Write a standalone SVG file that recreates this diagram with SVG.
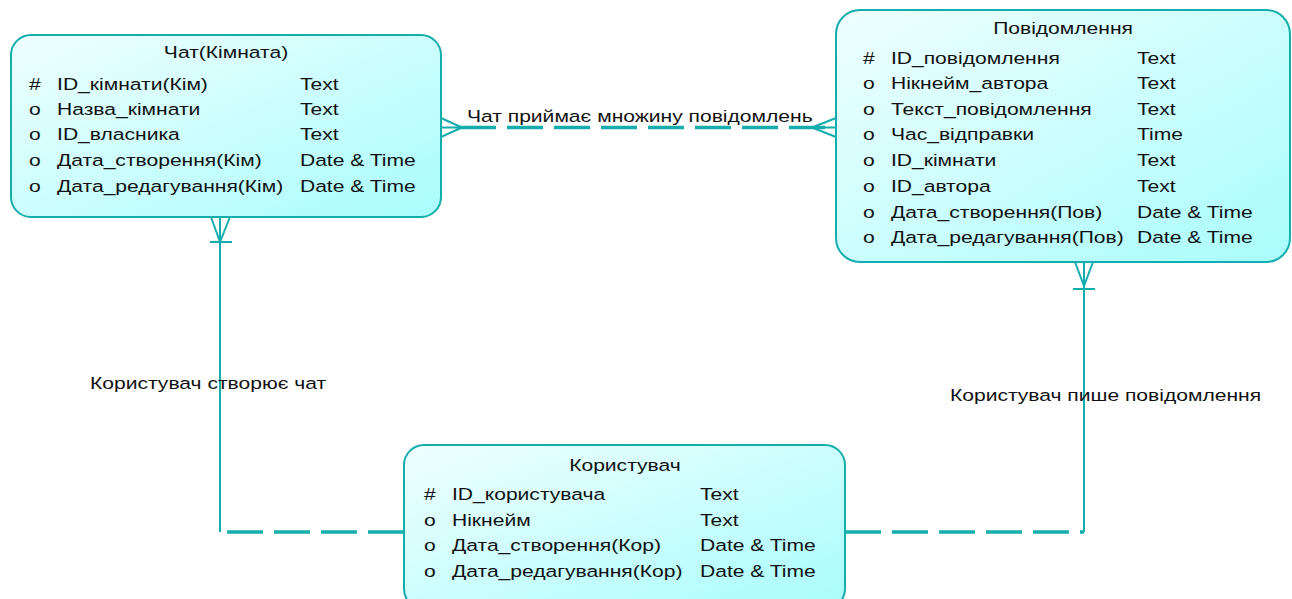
<svg xmlns="http://www.w3.org/2000/svg" width="1292" height="599" viewBox="0 0 1292 599">
  <defs>
    <linearGradient id="entityFill" x1="0" y1="0" x2="1" y2="1">
      <stop offset="0" stop-color="#effffe"/>
      <stop offset="1" stop-color="#a9fdfd"/>
    </linearGradient>
  </defs>
  <style>
    .box { fill: url(#entityFill); stroke: #14adad; stroke-width: 2; }
    text { font-family: "Liberation Sans", Arial, sans-serif; font-size: 17px; fill: #111; }
    .title { text-anchor: middle; }
    .rel { fill: none; stroke: #14adad; stroke-width: 2; }
    .dash { fill: none; stroke: #14adad; stroke-width: 3.5; stroke-dasharray: 36 11; }
  </style>
  <rect width="1292" height="599" fill="#ffffff"/>

  <!-- relationship lines; text layers are widened by 1.24 horizontally, so x values are divided by it -->
  <g id="connectors">
    <!-- chat to message: many to many -->
    <path class="rel" d="M441 118 L462 127.5 L441 137 M441 127.5 L462 127.5"/>
    <path class="rel" d="M836 118 L812 127.5 L836 137 M836 127.5 L812 127.5"/>
    <path class="dash" d="M460 127.5 L836 127.5"/>
    <!-- user creates chat -->
    <path class="rel" d="M211 217 L220 242 L230 217 M210 242 L232 242 M220 217 L220 532"/>
    <path class="dash" d="M404 532 L220 532"/>
    <!-- user writes message -->
    <path class="rel" d="M1075 262 L1084 286 L1093 262 M1073 289 L1095 289 M1084 262 L1084 532"/>
    <path class="dash" d="M845 532 L1084 532"/>
    <g transform="scale(1.24 1)">
      <text x="376.6" y="122">Чат приймає множину повідомлень</text>
      <text x="72.6" y="389">Користувач створює чат</text>
      <text x="766.1" y="401">Користувач пише повідомлення</text>
    </g>
  </g>

  <g id="chat">
    <rect class="box" x="11" y="35" width="430" height="182" rx="20" ry="20"/>
    <g transform="scale(1.24 1)">
      <text class="title" x="182.3" y="58">Чат(Кімната)</text>
      <text x="23.4" y="90">#</text><text x="46" y="90">ID_кімнати(Кім)</text><text x="241.9" y="90">Text</text>
      <text x="23.4" y="115">o</text><text x="46" y="115">Назва_кімнати</text><text x="241.9" y="115">Text</text>
      <text x="23.4" y="140">o</text><text x="46" y="140">ID_власника</text><text x="241.9" y="140">Text</text>
      <text x="23.4" y="166">o</text><text x="46" y="166">Дата_створення(Кім)</text><text x="241.9" y="166">Date &amp; Time</text>
      <text x="23.4" y="192">o</text><text x="46" y="192">Дата_редагування(Кім)</text><text x="241.9" y="192">Date &amp; Time</text>
    </g>
  </g>

  <g id="message">
    <rect class="box" x="836" y="10" width="454" height="252" rx="24" ry="24"/>
    <g transform="scale(1.24 1)">
      <text class="title" x="857.3" y="34">Повідомлення</text>
      <text x="696" y="64">#</text><text x="718.5" y="64">ID_повідомлення</text><text x="916.9" y="64">Text</text>
      <text x="696" y="89">o</text><text x="718.5" y="89">Нікнейм_автора</text><text x="916.9" y="89">Text</text>
      <text x="696" y="115">o</text><text x="718.5" y="115">Текст_повідомлення</text><text x="916.9" y="115">Text</text>
      <text x="696" y="140">o</text><text x="718.5" y="140">Час_відправки</text><text x="916.9" y="140">Time</text>
      <text x="696" y="166">o</text><text x="718.5" y="166">ID_кімнати</text><text x="916.9" y="166">Text</text>
      <text x="696" y="192">o</text><text x="718.5" y="192">ID_автора</text><text x="916.9" y="192">Text</text>
      <text x="696" y="218">o</text><text x="718.5" y="218">Дата_створення(Пов)</text><text x="916.9" y="218">Date &amp; Time</text>
      <text x="696" y="243">o</text><text x="718.5" y="243">Дата_редагування(Пов)</text><text x="916.9" y="243">Date &amp; Time</text>
    </g>
  </g>

  <g id="user">
    <rect class="box" x="404" y="445" width="441" height="164" rx="20" ry="20"/>
    <g transform="scale(1.24 1)">
      <text class="title" x="504" y="471">Користувач</text>
      <text x="341.9" y="500">#</text><text x="364.5" y="500">ID_користувача</text><text x="564.5" y="500">Text</text>
      <text x="341.9" y="526">o</text><text x="364.5" y="526">Нікнейм</text><text x="564.5" y="526">Text</text>
      <text x="341.9" y="551">o</text><text x="364.5" y="551">Дата_створення(Кор)</text><text x="564.5" y="551">Date &amp; Time</text>
      <text x="341.9" y="577">o</text><text x="364.5" y="577">Дата_редагування(Кор)</text><text x="564.5" y="577">Date &amp; Time</text>
    </g>
  </g>
</svg>
